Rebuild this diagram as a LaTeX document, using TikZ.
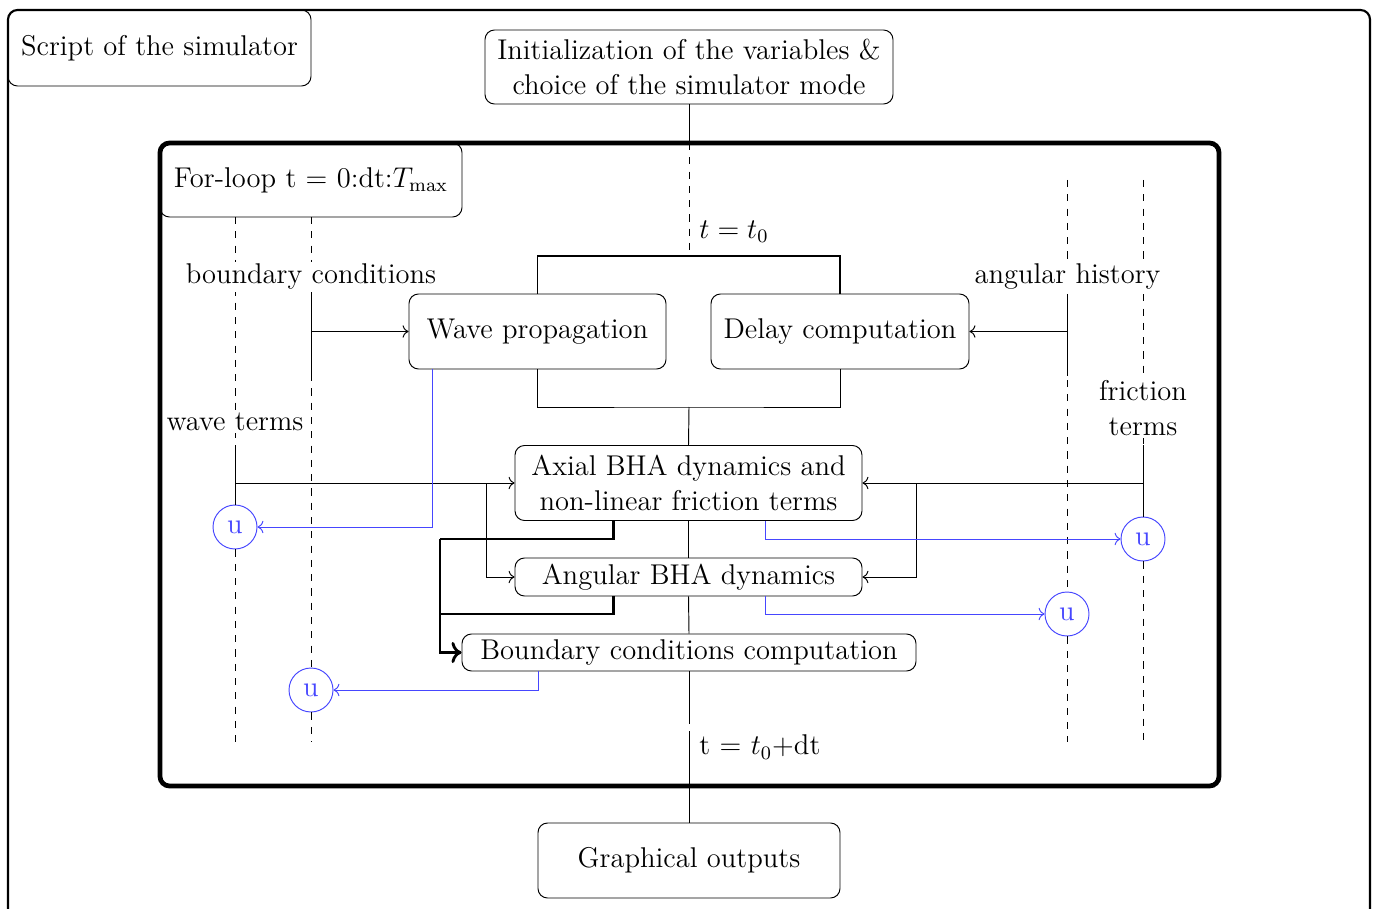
\documentclass[tikz,border=0pt]{standalone}
\usetikzlibrary{arrows.meta}
\newcommand\upx{0.42pt}
\definecolor{ublue}{RGB}{70,70,255}
\begin{document}
\begin{tikzpicture}[x=0.42pt,y=-0.42pt,font=\fontsize{12}{15}\selectfont,
  box/.style={draw,rounded corners=4pt,inner sep=0pt,align=center,fill=white},
  lbl/.style={fill=white,inner sep=1pt,align=center},
  ucirc/.style={circle,draw=ublue,text=ublue,minimum size=44*\upx,inner sep=0pt,fill=white},
  bl/.style={draw=ublue,->},
  tl/.style={dashed}]
\useasboundingbox (0,0) rectangle (1374,909);
% outer frame and script box
\node[box,minimum width=303*\upx,minimum height=76*\upx] (script) at (159.5,48) {Script of the simulator};
\draw[line width=0.9pt,rounded corners=4pt] (8,10) rectangle (1370,945);
% init box
\node[box,minimum width=408*\upx,minimum height=74*\upx] (init) at (689,67) {Initialization of the variables \&\\ choice of the simulator mode};
% loop frame
\node[box,minimum width=302*\upx,minimum height=74*\upx] (loop) at (311,180) {For-loop t = 0:dt:$T_{\max}$};
\draw[line width=2pt,rounded corners=4pt] (160,143) rectangle (1219,786);
% main boxes
\node[box,minimum width=257*\upx,minimum height=75*\upx] (wave) at (537.5,331.5) {Wave propagation};
\node[box,minimum width=258*\upx,minimum height=75*\upx] (delay) at (840,331.5) {Delay computation};
\node[box,minimum width=347*\upx,minimum height=75*\upx] (axial) at (688.5,483) {Axial BHA dynamics and\\ non-linear friction terms};
\node[box,minimum width=347*\upx,minimum height=38*\upx] (angular) at (688.5,577) {Angular BHA dynamics};
\node[box,minimum width=454*\upx,minimum height=37*\upx] (bound) at (689,652.5) {Boundary conditions computation};
\node[box,minimum width=302*\upx,minimum height=75*\upx] (graph) at (689,860.5) {Graphical outputs};
% circles
\node[ucirc] (u1) at (235,527) {u};
\node[ucirc] (u2) at (311,690) {u};
\node[ucirc] (u3) at (1143,539) {u};
\node[ucirc] (u4) at (1067,614) {u};
% central flow
\coordinate (ltop) at (689,143);
\coordinate (bt) at (689,256);
\coordinate (bb) at (689,407);
\coordinate (d1) at (689,717);
\coordinate (d2) at (689,738);
\draw (init.south) -- (ltop);
\draw[tl] (ltop) -- (bt);
\draw[thick] (wave.north) |- (bt) -| (delay.north);
\draw (wave.south) |- (bb) -| (delay.south);
\draw (bb) -- (axial.north);
\draw (axial.south) -- (angular.north);
\draw (angular.south) -- (bound.north);
\draw (bound.south) -- (d1);
\draw[tl] (d1) -- (d2);
\draw (d2) -- (graph.north);
\node[anchor=west,inner sep=0pt] (tlab0) at (699,232) {$t=t_0$};
\node[anchor=west,inner sep=0pt] (tlab1) at (699,747) {t = $t_0$+dt};
% timelines
\draw[tl] (235,217) -- (u1.north);
\draw[tl] (u1.south) -- (235,742);
\draw[tl] (311,217) -- (u2.north);
\draw[tl] (u2.south) -- (311,742);
\draw[tl] (1067,180) -- (u4.north);
\draw[tl] (u4.south) -- (1067,742);
\draw[tl] (1143,180) -- (u3.north);
\draw[tl] (u3.south) -- (1143,742);
\draw (311,294) -- (311,378);
\draw (1067,294) -- (1067,376);
\draw (235,445) -- (u1.north);
\draw (1143,445) -- (u3.north);
\node[lbl] (lbc) at (311,277) {boundary conditions};
\node[lbl] (lwt) at (235,422) {wave terms};
\node[lbl] (lah) at (1067.5,277) {angular history};
\node[lbl] (lft) at (1143,408) {friction\\ terms};
% black arrows
\draw[->] (311,331.5) -- (wave.west);
\draw[->] (1067,331.5) -- (delay.east);
\draw[->] (235,483) -- (axial.west);
\draw[->] (486,483) |- (angular.west);
\draw[->] (1143,483) -- (axial.east);
\draw[->] (916,483) |- (angular.east);
% blue arrows
\draw[bl] ([xshift=-105.5*\upx]wave.south) |- (u1.east);
\draw[bl] ([xshift=76.5*\upx]axial.south) |- (u3.west);
\draw[bl] ([xshift=76.5*\upx]angular.south) |- (u4.west);
\draw[bl] ([xshift=-151*\upx]bound.south) |- (u2.east);
% thick black
\coordinate (tk1) at (440,539);
\draw[very thick] ([xshift=-75*\upx]axial.south) |- (tk1);
\draw[very thick,->] (tk1) |- (bound.west);
\draw[very thick] ([xshift=-75*\upx]angular.south) |- (440,614);
\end{tikzpicture}
\end{document}
